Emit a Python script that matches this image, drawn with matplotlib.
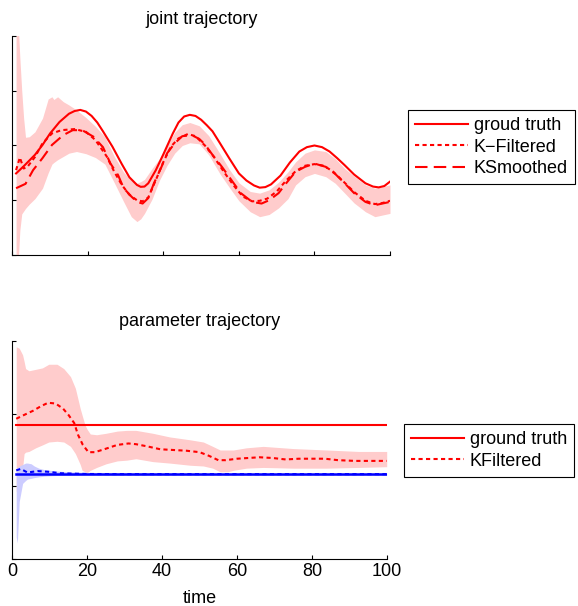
import numpy as np
import matplotlib
matplotlib.use('Agg')
import matplotlib.pyplot as plt

plt.rcParams['font.family'] = ['Liberation Sans', 'DejaVu Sans']
plt.rcParams['font.size'] = 13

# ---- joint trajectory (top) ----
truth_t = [1, 3, 6, 8, 10, 12.5, 15, 16.5, 18, 19.5, 21, 22.5, 24, 26.5, 29, 31, 33, 34, 35, 36, 38, 40, 42.5,
           44, 45.5, 47, 48.5, 50, 51.5, 53, 55, 57.5, 60, 62, 64, 65.5, 67, 68.5, 71, 73.5, 76, 78, 80, 82, 84,
           86, 88, 90.5, 93.5, 95.5, 97, 98.5, 100]
truth_v = [1.49, 1.62, 1.83, 2.01, 2.22, 2.43, 2.58, 2.63, 2.65, 2.62, 2.54, 2.42, 2.26, 1.98, 1.66, 1.42, 1.28, 1.245, 1.25, 1.31, 1.55, 1.84, 2.22,
           2.42, 2.53, 2.56, 2.54, 2.47, 2.37, 2.26, 2.04, 1.76, 1.49, 1.36, 1.27, 1.23, 1.24, 1.29, 1.45, 1.69, 1.89, 1.97, 2.00, 1.97, 1.89,
           1.77, 1.64, 1.47, 1.31, 1.25, 1.235, 1.26, 1.34]

filt_t = [1, 2, 3, 4, 6, 8, 10.5, 13, 16.5, 19.5, 22, 25, 27, 29, 31, 33, 34.5, 36, 38, 40,
          42, 44, 46.5, 48.5, 51, 53.5, 56, 58.5, 61, 63.5, 65.5, 67.5, 70, 72.5, 75, 77.5, 80, 82.5,
          85, 88, 90.5, 93.5, 96, 98, 100]
filt_v = [1.55, 1.78, 1.58, 1.61, 1.79, 2.04, 2.22, 2.28, 2.30, 2.25, 2.10, 1.80, 1.52, 1.28, 1.10, 1.00, 0.98, 1.05, 1.37, 1.70,
          1.98, 2.13, 2.21, 2.17, 2.00, 1.78, 1.52, 1.28, 1.07, 0.98, 0.99, 1.03, 1.16, 1.36, 1.53, 1.63, 1.66, 1.63,
          1.52, 1.32, 1.15, 0.99, 0.93, 0.95, 0.99]

smooth_t = [1, 3.5, 5.5, 8, 10.5, 13.5, 16, 18.5, 21.5, 24, 26, 28, 29.5, 31.5, 33, 34.5, 36, 37.5, 39.5, 41,
            43, 45, 47.5, 49.5, 51, 53, 55.5, 58, 60.5, 63.5, 66, 68, 70.5, 72.5, 75, 77.5, 80, 83,
            85.5, 88, 90.5, 93.5, 96, 98, 100]
smooth_v = [1.22, 1.30, 1.55, 1.77, 2.01, 2.19, 2.28, 2.28, 2.16, 1.97, 1.67, 1.46, 1.22, 1.07, 0.97, 0.94, 1.04, 1.31, 1.61, 1.86,
            2.04, 2.17, 2.19, 2.12, 2.02, 1.83, 1.61, 1.37, 1.13, 0.97, 0.94, 1.00, 1.13, 1.31, 1.52, 1.61, 1.67, 1.61,
            1.48, 1.31, 1.13, 0.97, 0.91, 0.94, 0.97]

band_t = [1, 1.5, 2, 2.5, 3, 3.5, 4.5, 6, 8, 9.5, 10.5, 11, 12, 13.5, 15, 17, 19.5, 22, 24.5, 27,
          29.5, 31.5, 33, 34, 35, 37, 39, 41, 43, 45, 47, 49.5, 52, 55, 57.5, 60, 63, 65.5, 68, 70.5,
          73, 75, 77.5, 80, 83, 85.5, 88, 90.5, 93.5, 96, 98, 100]
band_up = [4.3, 4.3, 3.6, 3.0, 2.5, 2.15, 2.16, 2.25, 2.50, 2.85, 2.89, 2.84, 2.89, 2.80, 2.74, 2.65, 2.51, 2.35, 2.16, 1.80,
           1.51, 1.36, 1.31, 1.34, 1.38, 1.58, 1.76, 2.01, 2.24, 2.38, 2.42, 2.36, 2.18, 1.85, 1.56, 1.32, 1.16, 1.13, 1.19, 1.33,
           1.52, 1.70, 1.86, 1.92, 1.89, 1.76, 1.58, 1.44, 1.28, 1.22, 1.25, 1.28]
band_lo = [-0.2, -0.2, 0.45, 0.75, 0.80, 0.85, 0.93, 1.03, 1.22, 1.50, 1.66, 1.69, 1.74, 1.80, 1.86, 1.89, 1.85, 1.78, 1.66, 1.32,
           0.97, 0.70, 0.61, 0.66, 0.76, 1.02, 1.37, 1.64, 1.86, 2.00, 2.05, 2.03, 1.83, 1.48, 1.23, 0.99, 0.79, 0.70, 0.74, 0.86,
           1.03, 1.28, 1.43, 1.49, 1.43, 1.31, 1.13, 0.95, 0.79, 0.70, 0.73, 0.76]

# ---- parameter trajectory (bottom) ----
red_truth_t = [1, 100]
red_truth_v = [1.85, 1.85]
blue_truth_t = [1, 100]
blue_truth_v = [1.165, 1.165]

rf_t = [1, 3, 5.5, 7.5, 9.5, 11.5, 13.5, 15, 16.5, 17.5, 18.8, 20.3, 22, 24.5, 28, 31, 33, 36, 39.5, 43,
        46.5, 50, 52.5, 55, 57, 60, 63, 66, 69.5, 73, 76.5, 80, 83.5, 87, 91.5, 96, 100]
rf_v = [1.93, 1.98, 2.04, 2.10, 2.15, 2.14, 2.07, 1.98, 1.87, 1.71, 1.57, 1.47, 1.47, 1.51, 1.57, 1.59, 1.58, 1.55, 1.51, 1.50,
        1.49, 1.47, 1.42, 1.36, 1.36, 1.38, 1.39, 1.40, 1.39, 1.37, 1.38, 1.38, 1.38, 1.36, 1.35, 1.35, 1.35]

rb_t = [1, 1.8, 2.2, 2.7, 3.1, 3.5, 4.4, 6.2, 8, 9.7, 11.9, 13.7, 15.5, 16.8, 18.1, 18.6, 19.4, 20, 20.8, 22.5,
        25, 28, 30.5, 33, 37.5, 42, 47.5, 51, 53.5, 55.5, 57.5, 59, 62.5, 67, 75, 84, 92.5, 100]
rb_up = [2.92, 2.90, 2.86, 2.81, 2.72, 2.62, 2.59, 2.61, 2.63, 2.68, 2.68, 2.62, 2.51, 2.35, 2.07, 1.98, 1.84, 1.78, 1.72, 1.71,
         1.73, 1.76, 1.77, 1.77, 1.73, 1.68, 1.64, 1.61, 1.55, 1.50, 1.50, 1.50, 1.53, 1.55, 1.52, 1.50, 1.48, 1.48]
rb_lo = [0.93, 0.98, 1.06, 1.25, 1.45, 1.47, 1.48, 1.53, 1.57, 1.61, 1.62, 1.61, 1.55, 1.45, 1.30, 1.22, 1.20, 1.19, 1.22, 1.26,
         1.31, 1.35, 1.36, 1.38, 1.34, 1.32, 1.29, 1.28, 1.25, 1.20, 1.20, 1.22, 1.25, 1.26, 1.25, 1.25, 1.26, 1.27]

bf_t = [1, 2.2, 4, 6.7, 9.7, 12.8, 16, 20, 30, 50, 75, 100]
bf_v = [1.22, 1.24, 1.19, 1.21, 1.20, 1.18, 1.175, 1.17, 1.168, 1.168, 1.168, 1.168]

bb_t = [1, 1.3, 1.8, 2.7, 3.5, 4, 5, 5.8, 7, 8.5, 10, 12, 15, 20, 30, 50, 75, 100]
bb_up = [1.24, 1.26, 1.28, 1.30, 1.32, 1.32, 1.31, 1.28, 1.25, 1.23, 1.22, 1.21, 1.20, 1.19, 1.185, 1.18, 1.18, 1.18]
bb_lo = [0.30, 0.22, 0.79, 1.04, 1.08, 1.10, 1.11, 1.12, 1.13, 1.14, 1.145, 1.15, 1.15, 1.155, 1.155, 1.155, 1.155, 1.155]

pink = '#FFCCCC'
lilac = '#CCCCFF'
dot = (2, 1.6)
dash = (6, 3)

fig = plt.figure(figsize=(5.78, 6.06), dpi=100)
ax1 = fig.add_axes([12.3/578, 1-255/606, (390-12.3)/578, (255-36)/606])
ax2 = fig.add_axes([12.5/578, 1-559/606, (386.7-12.5)/578, (559-341)/606])

ax1.fill_between(band_t, band_lo, band_up, color=pink, lw=0)
ax1.plot(truth_t, truth_v, color='red', lw=1.5, label='groud truth')
ax1.plot(filt_t, filt_v, color='red', lw=1.5, dashes=dot, label='K\u2212Filtered')
ax1.plot(smooth_t, smooth_v, color='red', lw=1.5, dashes=dash, label='KSmoothed')
ax1.set_xlim(0, 100)
ax1.set_ylim(0, 4)
ax1.set_yticks([0, 1, 2, 3, 4])
ax1.set_xticks([0, 20, 40, 60, 80, 100])
ax1.set_yticklabels([])
ax1.set_xticklabels([])
ax1.set_title('joint trajectory', fontsize=13, pad=8.5)

ax2.fill_between(rb_t, rb_lo, rb_up, color=pink, lw=0)
ax2.fill_between(bb_t, bb_lo, bb_up, color=lilac, lw=0)
ax2.plot(red_truth_t, red_truth_v, color='red', lw=1.5, label='ground truth')
ax2.plot(rf_t, rf_v, color='red', lw=1.5, dashes=dot, label='KFiltered')
ax2.plot(blue_truth_t, blue_truth_v, color='blue', lw=1.8)
ax2.plot(bf_t, bf_v, color='blue', lw=1.5, dashes=dot)
ax2.set_xlim(0, 100)
ax2.set_ylim(0, 3)
ax2.set_yticks([0, 1, 2, 3])
ax2.set_yticklabels([])
ax2.set_xticks([0, 20, 40, 60, 80, 100])
ax2.set_title('parameter trajectory', fontsize=13, pad=10.5)
ax2.set_xlabel('time', fontsize=13, labelpad=7)

for ax in (ax1, ax2):
    ax.spines['top'].set_visible(False)
    ax.spines['right'].set_visible(False)
    ax.spines['left'].set_linewidth(0.8)
    ax.spines['bottom'].set_linewidth(0.8)
    ax.tick_params(direction='in', length=3, width=0.8, labelsize=13, pad=3)

leg1 = ax1.legend(loc='upper left', bbox_to_anchor=(408/578, 1-110/606), bbox_transform=fig.transFigure,
                  borderaxespad=0, frameon=True, fancybox=False, framealpha=1, edgecolor='black',
                  fontsize=13, handlelength=2.9, handletextpad=0.35, labelspacing=0.25, borderpad=0.4)
leg1.get_frame().set_linewidth(0.8)
leg2 = ax2.legend(loc='upper left', bbox_to_anchor=(404/578, 1-424/606), bbox_transform=fig.transFigure,
                  borderaxespad=0, frameon=True, fancybox=False, framealpha=1, edgecolor='black',
                  fontsize=13, handlelength=2.9, handletextpad=0.35, labelspacing=0.25, borderpad=0.4)
leg2.get_frame().set_linewidth(0.8)

fig.savefig('out.png', dpi=100)
